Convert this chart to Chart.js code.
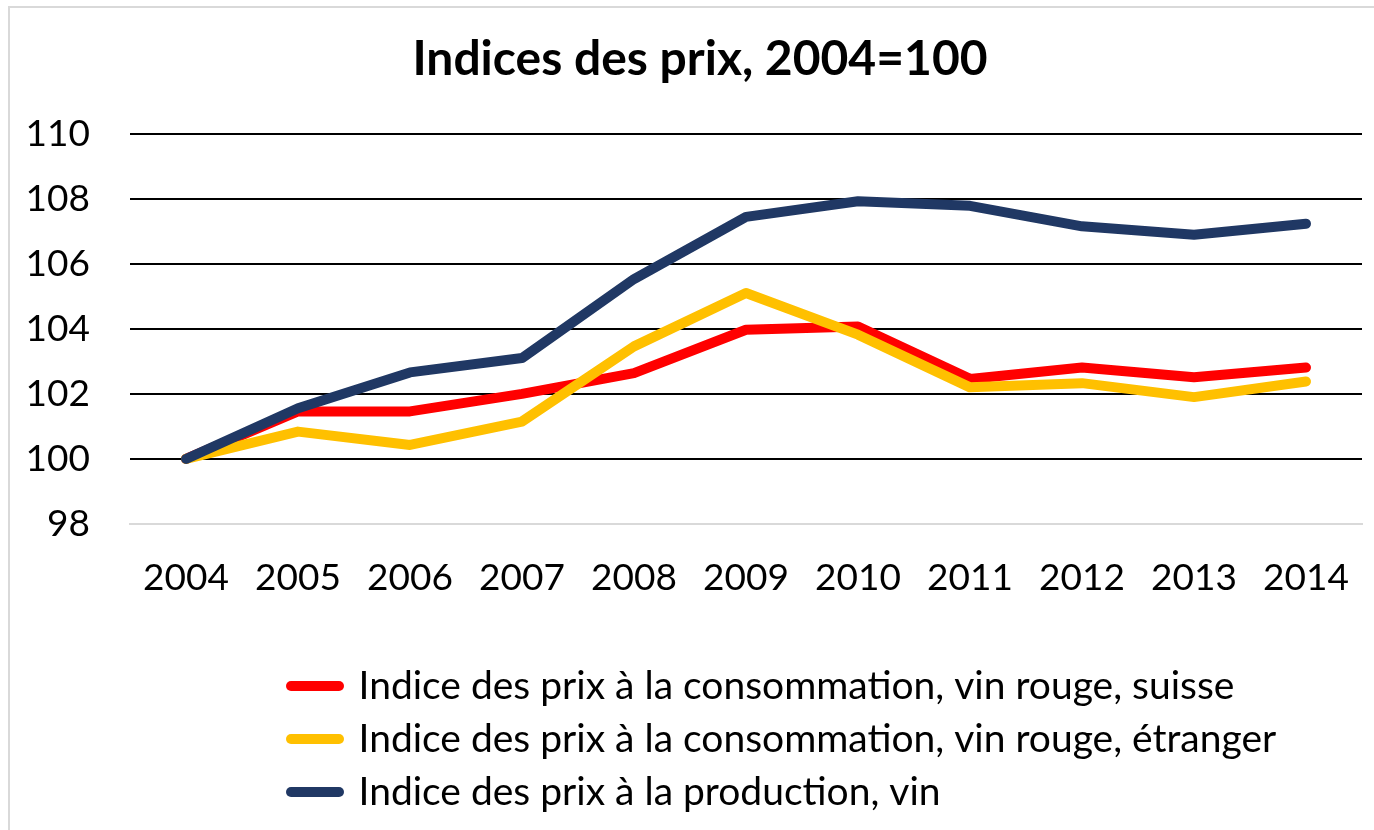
<!DOCTYPE html>
<html>
<head>
<meta charset="utf-8">
<script src="https://cdn.jsdelivr.net/npm/chart.js@4.4.1/dist/chart.umd.min.js"></script>
<style>
  body { margin: 0; background: #fff; }
  #wrap { position: relative; width: 1374px; height: 830px; overflow: hidden; }
  #frame { position: absolute; left: 8px; top: 6px; width: 1400px; height: 900px;
           border-left: 2px solid #d9d9d9; border-top: 2px solid #d9d9d9; pointer-events: none; }
  canvas { position: absolute; left: 0; top: 0; }
</style>
</head>
<body>
<div id="wrap">
  <canvas id="chart" width="1374" height="830"></canvas>
  <div id="frame"></div>
</div>
<script>
// categories
const years = ['2004', '2005', '2006', '2007', '2008', '2009', '2010', '2011', '2012', '2013', '2014'];

// series, 2004 = 100
const vinSuisse = [100, 101.46, 101.46, 102.0, 102.64, 103.97, 104.07, 102.46, 102.81, 102.51, 102.81];
const vinEtranger = [100, 100.84, 100.43, 101.15, 103.46, 105.1, 103.82, 102.2, 102.33, 101.9, 102.38];
const vinProduction = [100, 101.56, 102.66, 103.1, 105.53, 107.44, 107.92, 107.78, 107.15, 106.89, 107.23];

const seriesNames = [
    'Indice des prix à la consommation, vin rouge, suisse',
    'Indice des prix à la consommation, vin rouge, étranger',
    'Indice des prix à la production, vin'
];

const yMin = 98, yMax = 110, yStep = 2;

const FONT = 'Lato, "Noto Sans", sans-serif';

function lineSet(label, data, color, order) {
    return {
        label: label,
        data: data,
        borderColor: color,
        backgroundColor: color,
        borderWidth: 10,
        borderCapStyle: 'round',
        borderJoinStyle: 'round',
        pointRadius: 0,
        pointHoverRadius: 0,
        tension: 0,
        fill: false,
        order: order
    };
}

// move the legend block to where the original has it,
// and let the y labels use the left padding strip
const layoutFix = {
    id: 'layoutFix',
    afterLayout(chart) {
        chart.legend.left = 277;
        chart.scales.y.left = 0;
    }
};

new Chart(document.getElementById('chart'), {
    type: 'line',
    data: {
        labels: years,
        datasets: [
            lineSet(seriesNames[0], vinSuisse, '#ff0000', 3),
            lineSet(seriesNames[1], vinEtranger, '#ffc000', 2),
            lineSet(seriesNames[2], vinProduction, '#203864', 1)
        ]
    },
    options: {
        responsive: false,
        animation: false,
        layout: { padding: { left: 38, right: 12, top: 0, bottom: 8.5 } },
        plugins: {
            title: {
                display: true,
                text: 'Indices des prix, 2004=100',
                color: '#000',
                font: { family: FONT, size: 48, weight: 'bold', lineHeight: 1.2 },
                padding: { top: 31, bottom: 45 }
            },
            legend: {
                position: 'bottom',
                align: 'start',
                labels: {
                    usePointStyle: true,
                    pointStyle: 'line',
                    pointStyleWidth: 48,
                    boxHeight: 10,
                    padding: 14,
                    color: '#000',
                    font: { family: FONT, size: 39 },
                    sort: (a, b) => a.datasetIndex - b.datasetIndex,
                    generateLabels: chart => {
                        const items = Chart.defaults.plugins.legend.labels.generateLabels(chart);
                        items.forEach(it => { it.lineCap = 'round'; });
                        return items;
                    }
                }
            },
            tooltip: { enabled: false }
        },
        scales: {
            x: {
                offset: true,
                grid: { display: false, drawTicks: false },
                border: { display: true, color: '#d9d9d9', width: 2 },
                ticks: { color: '#000', padding: 32, maxRotation: 0, font: { family: FONT, size: 37 } },
                afterFit: s => {
                    s.height = 128.5;
                    s.paddingLeft = 0;
                    s.paddingRight = 0;
                }
            },
            y: {
                min: yMin,
                max: yMax,
                grid: {
                    drawTicks: false,
                    lineWidth: 2,
                    color: c => c.tick && c.tick.value === yMin ? '#d9d9d9' : '#000'
                },
                border: { display: false },
                ticks: { stepSize: yStep, color: '#000', padding: 40, font: { family: FONT, size: 37 } },
                afterFit: s => { s.width = 92; }
            }
        }
    },
    plugins: [layoutFix]
});
</script>
</body>
</html>
